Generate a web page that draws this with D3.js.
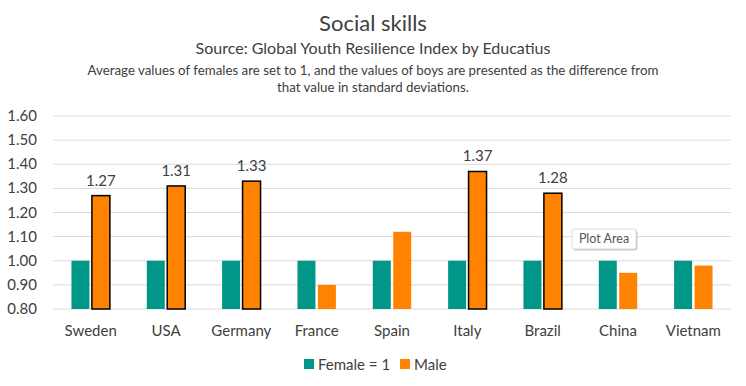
<!DOCTYPE html>
<html>
<head>
<meta charset="utf-8">
<script src="https://cdn.jsdelivr.net/npm/d3@7/dist/d3.min.js"></script>
<style>
  body { margin: 0; background: #fff; overflow: hidden; }
  svg { display: block; }
  text { font-family: Lato, "Open Sans", sans-serif; fill: #404040; }
</style>
</head>
<body>
<div id="chart"></div>
<script>
const width = 746;
const height = 386;
const margin = {top: 116, right: 15, bottom: 77, left: 53};

const countries = ['Sweden', 'USA', 'Germany', 'France', 'Spain', 'Italy', 'Brazil', 'China', 'Vietnam'];
const female = [1, 1, 1, 1, 1, 1, 1, 1, 1];
const male = [1.27, 1.31, 1.33, 0.90, 1.12, 1.37, 1.28, 0.95, 0.98];
const labelled = [true, true, true, false, false, true, true, false, false];
const yTicks = [0.8, 0.9, 1.0, 1.1, 1.2, 1.3, 1.4, 1.5, 1.6];
const seriesNames = ['Female = 1', 'Male'];
const colors = ['#009688', '#FF8300'];

const svg = d3.select('#chart').append('svg')
    .attr('width', width)
    .attr('height', height);

const innerWidth = width - margin.left - margin.right;
const innerHeight = height - margin.top - margin.bottom;

svg.append('text').attr('x', 373).attr('y', 31)
    .attr('text-anchor', 'middle').attr('font-size', 22).text('Social skills');
svg.append('text').attr('x', 373).attr('y', 54)
    .attr('text-anchor', 'middle').attr('font-size', 16)
    .text('Source: Global Youth Resilience Index by Educatius');
svg.append('text').attr('x', 373).attr('y', 75)
    .attr('text-anchor', 'middle').attr('font-size', 13.3)
    .text('Average values of females are set to 1, and the values of boys are presented as the difference from');
svg.append('text').attr('x', 373).attr('y', 92)
    .attr('text-anchor', 'middle').attr('font-size', 13.3)
    .text('that value in standard deviations.');

const g = svg.append('g').attr('transform', `translate(${margin.left},${margin.top})`);

const x0 = d3.scaleBand().domain(countries).range([0, innerWidth]).paddingInner(0.49).paddingOuter(0.245);
const x1 = d3.scaleBand().domain([0, 1]).range([0, x0.bandwidth()]).paddingInner(0.12);
const y = d3.scaleLinear().domain([0.8, 1.6]).range([innerHeight, 0]);

// grid
g.selectAll('.grid').data(yTicks).enter().append('line')
    .attr('x1', 0).attr('x2', innerWidth)
    .attr('y1', d => y(d)).attr('y2', d => y(d))
    .attr('stroke', '#d9d9d9').attr('stroke-width', 1);

g.selectAll('.ylab').data(yTicks).enter().append('text')
    .attr('x', -16).attr('y', d => y(d) + 5)
    .attr('text-anchor', 'end').attr('font-size', 15)
    .text(d => d.toFixed(2));

// bars
const groups = g.selectAll('.grp').data(countries).enter().append('g')
    .attr('transform', d => `translate(${x0(d)},0)`);

groups.append('rect')
    .attr('x', x1(0)).attr('width', x1.bandwidth())
    .attr('y', (d, i) => y(female[i]))
    .attr('height', (d, i) => y(0.8) - y(female[i]))
    .attr('fill', colors[0]);

groups.append('rect')
    .attr('x', x1(1)).attr('width', x1.bandwidth())
    .attr('y', (d, i) => y(male[i]))
    .attr('height', (d, i) => y(0.8) - y(male[i]))
    .attr('fill', colors[1])
    .attr('stroke', (d, i) => labelled[i] ? '#000' : 'none')
    .attr('stroke-width', 1.5);

groups.filter((d, i) => labelled[i]).append('text')
    .attr('x', x1(1) + x1.bandwidth() / 2)
    .attr('y', d => y(male[countries.indexOf(d)]) - 10)
    .attr('text-anchor', 'middle').attr('font-size', 15)
    .text(d => male[countries.indexOf(d)].toFixed(2));

g.selectAll('.xlab').data(countries).enter().append('text')
    .attr('x', d => x0(d) + x0.bandwidth() / 2)
    .attr('y', innerHeight + 27)
    .attr('text-anchor', 'middle').attr('font-size', 15)
    .text(d => d);

// legend
const legend = svg.append('g').attr('transform', 'translate(304,365)');
const legendX = [0, 96];
seriesNames.forEach((name, i) => {
    legend.append('rect').attr('x', legendX[i]).attr('y', -6).attr('width', 10).attr('height', 10)
        .attr('fill', colors[i]);
    legend.append('text').attr('x', legendX[i] + 14).attr('y', 5)
        .attr('font-size', 15).text(name);
});

// Excel tooltip as seen in the screenshot
const tip = svg.append('g').attr('transform', 'translate(572,229)');
tip.append('rect').attr('x', 1.5).attr('y', 1.5).attr('width', 64).attr('height', 20)
    .attr('fill', '#c8c8c8').attr('rx', 2);
tip.append('rect').attr('width', 64).attr('height', 20)
    .attr('fill', '#fff').attr('stroke', '#dadada').attr('rx', 2);
tip.append('text').attr('x', 32).attr('y', 14)
    .attr('text-anchor', 'middle').attr('font-size', 12.5).style('fill', '#555').text('Plot Area');
</script>
</body>
</html>
